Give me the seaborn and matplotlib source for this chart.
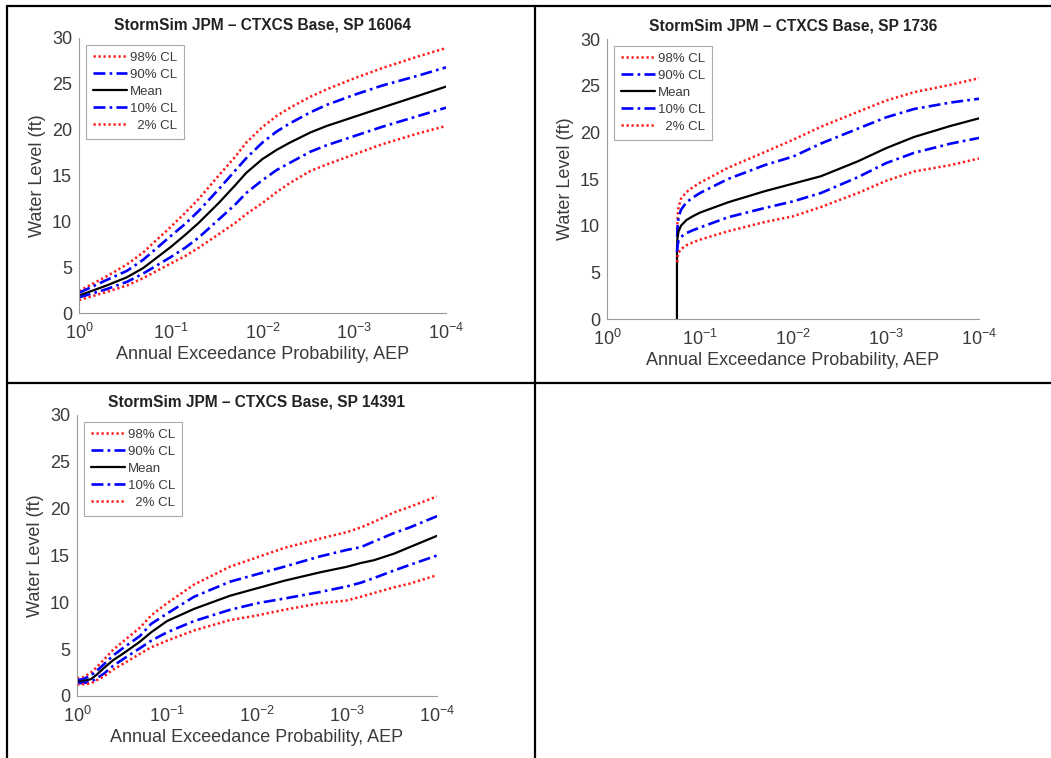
import numpy as np
import pandas as pd
import matplotlib
matplotlib.use("Agg")
import matplotlib.pyplot as plt
from matplotlib.lines import Line2D
from matplotlib.ticker import LogLocator, FixedLocator, FixedFormatter, NullFormatter
import seaborn as sns

# ---------------- data ----------------
labels = ["98% CL", "90% CL", "Mean", "10% CL", "  2% CL"]
titles = ["StormSim JPM \u2013 CTXCS Base, SP 16064",
          "StormSim JPM \u2013 CTXCS Base, SP 1736",
          "StormSim JPM \u2013 CTXCS Base, SP 14391"]
xtick_vals = [1, 1e-1, 1e-2, 1e-3, 1e-4]
xtick_labels = ["$10^{0}$", "$10^{-1}$", "$10^{-2}$", "$10^{-3}$", "$10^{-4}$"]
ytick_vals = [0, 5, 10, 15, 20, 25, 30]

# SP 16064
aep_1 = [1, 0.5, 0.3, 0.2, 0.1, 0.07, 0.05, 0.03, 0.02, 0.015, 0.01, 0.007, 0.005, 0.003, 0.002, 0.001, 0.0005, 0.0002, 0.0001]
cl98_1 = [2.4, 4.0, 5.3, 6.6, 9.4, 10.9, 12.4, 15.0, 17.0, 18.6, 20.3, 21.5, 22.4, 23.6, 24.4, 25.6, 26.7, 28.0, 28.9]
cl90_1 = [2.2, 3.6, 4.6, 5.8, 8.4, 9.7, 11.1, 13.5, 15.5, 16.9, 18.6, 19.8, 20.7, 21.9, 22.7, 23.8, 24.8, 25.9, 26.8]
mean_1 = [1.9, 3.0, 3.9, 4.9, 7.2, 8.5, 9.8, 12.0, 13.9, 15.3, 16.8, 17.8, 18.6, 19.7, 20.4, 21.4, 22.4, 23.7, 24.7]
cl10_1 = [1.7, 2.6, 3.4, 4.3, 6.1, 7.1, 8.2, 10.2, 11.8, 13.1, 14.5, 15.6, 16.4, 17.6, 18.3, 19.3, 20.3, 21.5, 22.4]
cl02_1 = [1.4, 2.3, 3.0, 3.8, 5.4, 6.2, 7.1, 8.6, 9.8, 10.8, 12.0, 13.2, 14.2, 15.5, 16.2, 17.3, 18.4, 19.6, 20.4]

# SP 1736
aep_2m = [0.177, 0.1768, 0.175, 0.17, 0.16, 0.14, 0.12, 0.1, 0.05, 0.02, 0.01, 0.005, 0.002, 0.001, 0.0005, 0.0002, 0.0001]
mean_2 = [0.0, 7.5, 8.6, 9.4, 10.0, 10.6, 11.0, 11.4, 12.5, 13.7, 14.5, 15.3, 16.9, 18.3, 19.5, 20.7, 21.5]
aep_2 = [0.176, 0.174, 0.17, 0.16, 0.14, 0.12, 0.1, 0.05, 0.02, 0.01, 0.005, 0.002, 0.001, 0.0005, 0.0002, 0.0001]
cl98_2 = [9.6, 11.0, 12.0, 12.9, 13.6, 14.1, 14.6, 16.2, 17.9, 19.2, 20.6, 22.2, 23.4, 24.3, 25.1, 25.8]
cl90_2 = [8.8, 10.0, 10.9, 11.7, 12.5, 13.0, 13.5, 15.0, 16.5, 17.4, 18.8, 20.4, 21.6, 22.5, 23.2, 23.6]
cl10_2 = [7.2, 7.9, 8.4, 8.8, 9.2, 9.5, 9.8, 10.9, 11.9, 12.6, 13.5, 15.2, 16.7, 17.8, 18.8, 19.4]
cl02_2 = [6.1, 6.7, 7.1, 7.5, 7.9, 8.2, 8.5, 9.4, 10.4, 11.0, 12.0, 13.5, 14.8, 15.8, 16.5, 17.2]

# SP 14391
aep_3 = [1, 0.85, 0.7, 0.6, 0.5, 0.4, 0.3, 0.2, 0.15, 0.1, 0.05, 0.02, 0.01, 0.005, 0.002, 0.001, 0.0007, 0.0005, 0.0003, 0.0002, 0.0001]
cl98_3 = [1.9, 2.0, 2.5, 3.1, 3.9, 4.9, 5.9, 7.3, 8.6, 9.9, 11.9, 13.8, 14.8, 15.8, 16.8, 17.5, 18.0, 18.6, 19.6, 20.2, 21.3]
cl90_3 = [1.7, 1.8, 2.2, 2.7, 3.4, 4.3, 5.2, 6.4, 7.7, 8.8, 10.6, 12.2, 13.0, 13.8, 14.9, 15.6, 15.9, 16.5, 17.4, 18.0, 19.2]
mean_3 = [1.5, 1.6, 1.8, 2.3, 3.0, 3.8, 4.6, 5.8, 6.8, 8.0, 9.3, 10.7, 11.5, 12.3, 13.2, 13.8, 14.2, 14.5, 15.2, 15.9, 17.1]
cl10_3 = [1.35, 1.4, 1.5, 1.9, 2.4, 3.2, 4.0, 5.1, 5.9, 6.8, 8.0, 9.2, 9.9, 10.4, 11.1, 11.7, 12.1, 12.6, 13.4, 14.0, 15.0]
cl02_3 = [1.2, 1.25, 1.35, 1.7, 2.1, 2.8, 3.5, 4.5, 5.2, 5.9, 7.0, 8.1, 8.6, 9.2, 9.9, 10.2, 10.6, 11.0, 11.6, 12.0, 12.9]

# ---------------- style ----------------
sns.set_style("white")
plt.rcParams["font.family"] = ["Liberation Sans", "DejaVu Sans"]
plt.rcParams["mathtext.fontset"] = "custom"
plt.rcParams["mathtext.rm"] = "Liberation Sans"
plt.rcParams["mathtext.it"] = "Liberation Sans:italic"
plt.rcParams["mathtext.bf"] = "Liberation Sans:bold"

TXT = "#3a3a3a"
RED = "#ff1a1a"
BLUE = "#0000ff"

fig = plt.figure(figsize=(10.51, 7.58), dpi=100)
fig.patch.set_facecolor("white")

W, H = 1051.0, 758.0
def rect(l, t, r, b):
    return [l / W, 1 - b / H, (r - l) / W, (b - t) / H]

axes_rects = [rect(79, 38, 446, 313), rect(607, 39, 979, 319), rect(77, 415, 437, 696)]

panels = [
    [(aep_1, cl98_1), (aep_1, cl90_1), (aep_1, mean_1), (aep_1, cl10_1), (aep_1, cl02_1)],
    [(aep_2, cl98_2), (aep_2, cl90_2), (aep_2m, mean_2), (aep_2, cl10_2), (aep_2, cl02_2)],
    [(aep_3, cl98_3), (aep_3, cl90_3), (aep_3, mean_3), (aep_3, cl10_3), (aep_3, cl02_3)],
]
styles = [
    dict(color=RED, linestyle=(0, (0.9, 1.1)), lw=1.8),
    dict(color=BLUE, linestyle=(0, (4.5, 1.6, 1.0, 1.6)), lw=1.9),
    dict(color="black", linestyle="-", lw=1.6),
    dict(color=BLUE, linestyle=(0, (4.5, 1.6, 1.0, 1.6)), lw=1.9),
    dict(color=RED, linestyle=(0, (0.9, 1.1)), lw=1.8),
]

for i, (r, series) in enumerate(zip(axes_rects, panels)):
    ax = fig.add_axes(r)
    for (x, y), lab, st in zip(series, labels, styles):
        df = pd.DataFrame({"AEP": x, "WL": y})
        sns.lineplot(data=df, x="AEP", y="WL", ax=ax, estimator=None, sort=False,
                     label=lab, **st)
    ax.set_xscale("log")
    ax.set_xlim(1, 1e-4)
    ax.set_ylim(0, 30)
    ax.xaxis.set_major_locator(FixedLocator(xtick_vals))
    ax.xaxis.set_major_formatter(FixedFormatter(xtick_labels))
    ax.xaxis.set_minor_locator(LogLocator(base=10, subs=np.arange(2, 10)))
    ax.xaxis.set_minor_formatter(NullFormatter())
    ax.set_yticks(ytick_vals)
    ax.set_yticklabels([str(v) for v in ytick_vals])
    for s in ["top", "right"]:
        ax.spines[s].set_visible(False)
    for s in ["left", "bottom"]:
        ax.spines[s].set_color("#9a9a9a")
        ax.spines[s].set_linewidth(0.8)
    ax.tick_params(axis="both", which="both", direction="in", colors="#9a9a9a",
                   labelcolor=TXT, labelsize=13)
    ax.tick_params(axis="both", which="major", length=4, width=0.6)
    ax.tick_params(axis="x", which="minor", length=2, width=0.5)
    ax.tick_params(axis="x", which="major", pad=7)
    ax.tick_params(axis="y", which="major", pad=5)
    ax.set_xlabel("Annual Exceedance Probability, AEP", fontsize=13, color=TXT, labelpad=2)
    ax.set_ylabel("Water Level (ft)", fontsize=13, color=TXT, labelpad=4)
    ax.set_title(titles[i], fontsize=11.2, fontweight="bold", color="#222222", pad=6)
    ax.set_facecolor("white")
    ax.grid(False)
    leg = ax.legend(loc="upper left", fontsize=9.5, frameon=True, fancybox=False,
                    framealpha=1, edgecolor="#aaaaaa", borderaxespad=0.55,
                    handlelength=2.6, handletextpad=0.2, labelspacing=0.36,
                    borderpad=0.5)
    leg.get_frame().set_linewidth(0.8)
    for t in leg.get_texts():
        t.set_color(TXT)

# table grid lines
def fline(x0, y0, x1, y1):
    fig.add_artist(Line2D([x0 / W, x1 / W], [1 - y0 / H, 1 - y1 / H],
                          transform=fig.transFigure, color="black", lw=1.6))

fline(7, 5.5, W, 5.5)
fline(7, 5.5, 7, H)
fline(534.5, 5.5, 534.5, H)
fline(7, 382.5, W, 382.5)

fig.savefig("out.png", dpi=100, facecolor="white")
